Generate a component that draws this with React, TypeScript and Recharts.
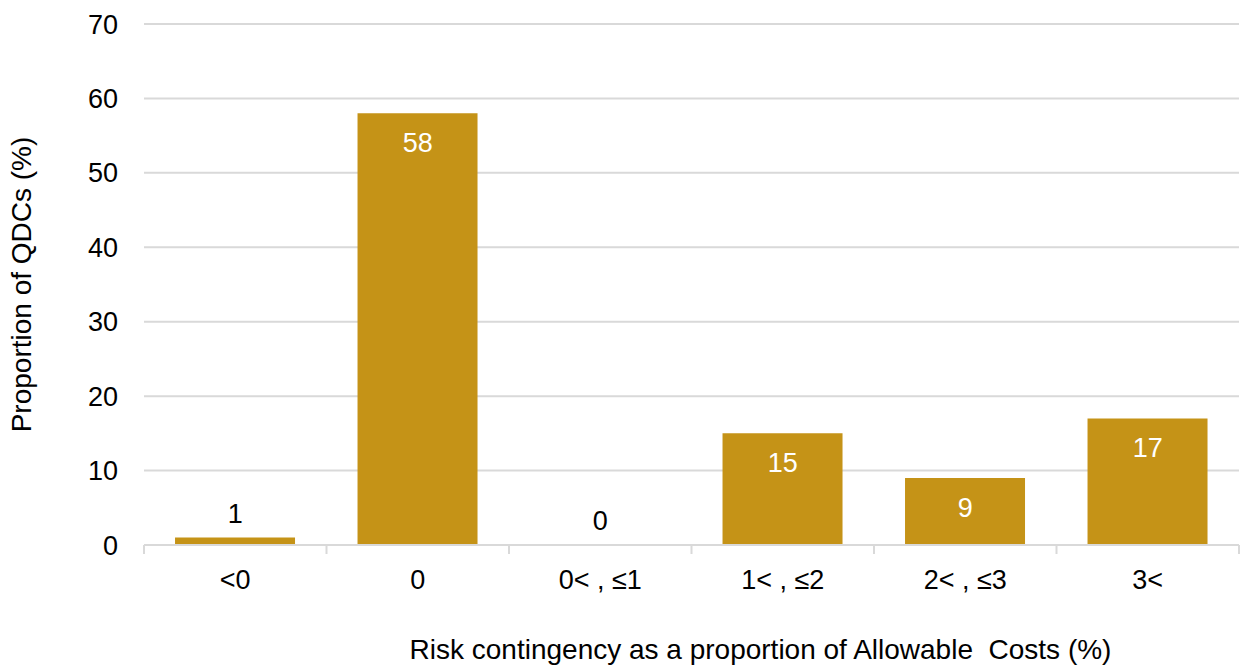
import React from "react";
import { ComposedChart, Bar, Line, XAxis, YAxis, CartesianGrid, LabelList } from "recharts";

// Risk contingency bands and share of QDCs in each band
const categories = ["<0", "0", "0< , \u22641", "1< , \u22642", "2< , \u22643", "3<"];
const proportions = [1, 58, 0, 15, 9, 17];
const yTicks = [0, 10, 20, 30, 40, 50, 60, 70];

const data = categories.map((band, i) => ({ band, value: proportions[i] }));

const FONT = "'Liberation Sans', Arial, sans-serif";
const BAR_COLOR = "#C59317";
const GRID_COLOR = "#D9D9D9";
const FONT_SIZE = 27;
const TITLE_SIZE = 28;

const CategoryTick = (props: any) => {
  const { x, y, payload, index, width } = props;
  const band = width / categories.length;
  const left = x - band / 2;
  const right = x + band / 2;
  return (
    <g>
      <line x1={left} y1={y} x2={left} y2={y + 9} stroke={GRID_COLOR} strokeWidth={2} />
      {index === categories.length - 1 && (
        <line x1={right} y1={y} x2={right} y2={y + 9} stroke={GRID_COLOR} strokeWidth={2} />
      )}
      <text x={x} y={y + 44} textAnchor="middle" fontFamily={FONT} fontSize={FONT_SIZE} fill="#000">
        {payload.value}
      </text>
    </g>
  );
};

// Value labels sit inside the top of tall bars and just above short ones
const ValueLabel = (props: any) => {
  const { x, y, value } = props;
  const outside = value < 5;
  return (
    <text
      x={x}
      y={outside ? y - 15 : y + 39}
      textAnchor="middle"
      fontFamily={FONT}
      fontSize={FONT_SIZE}
      fill={outside ? "#000" : "#fff"}
    >
      {value}
    </text>
  );
};

const XTitle = (props: any) => {
  const { viewBox } = props;
  const cx = viewBox.x + viewBox.width / 2 + 69;
  return (
    <text
      x={cx}
      y={viewBox.y + 114}
      textAnchor="middle"
      fontFamily={FONT}
      fontSize={TITLE_SIZE}
      fill="#000"
      style={{ whiteSpace: "pre" }}
    >
      {"Risk contingency as a proportion of Allowable  Costs (%)"}
    </text>
  );
};

const YTitle = (props: any) => {
  const { viewBox } = props;
  const x = 31;
  const y = viewBox.y + viewBox.height / 2;
  return (
    <text
      x={x}
      y={y}
      transform={`rotate(-90, ${x}, ${y})`}
      textAnchor="middle"
      fontFamily={FONT}
      fontSize={TITLE_SIZE}
      fill="#000"
    >
      Proportion of QDCs (%)
    </text>
  );
};

export default function App() {
  return (
    <div style={{ position: "absolute", left: 0, top: 0, width: 1240, height: 666, background: "#fff" }}>
      <ComposedChart
        width={1240}
        height={666}
        data={data}
        margin={{ top: 24, right: 1, bottom: 0, left: 0 }}
        barCategoryGap="17%"
      >
        <CartesianGrid vertical={false} stroke={GRID_COLOR} strokeWidth={2} />
        <XAxis
          dataKey="band"
          height={121}
          tickLine={false}
          tickSize={0}
          tickMargin={0}
          axisLine={{ stroke: GRID_COLOR, strokeWidth: 2 }}
          tick={<CategoryTick />}
          interval={0}
          label={<XTitle />}
        />
        <YAxis
          width={144}
          domain={[0, 70]}
          ticks={yTicks}
          axisLine={false}
          tickLine={false}
          tickSize={0}
          tickMargin={26}
          tick={{ fontFamily: FONT, fontSize: FONT_SIZE, fill: "#000" }}
          label={<YTitle />}
        />
        <Bar dataKey="value" fill={BAR_COLOR} isAnimationActive={false} />
        <Line
          dataKey="value"
          stroke="none"
          dot={false}
          activeDot={false}
          legendType="none"
          isAnimationActive={false}
        >
          <LabelList dataKey="value" content={<ValueLabel />} />
        </Line>
      </ComposedChart>
    </div>
  );
}
